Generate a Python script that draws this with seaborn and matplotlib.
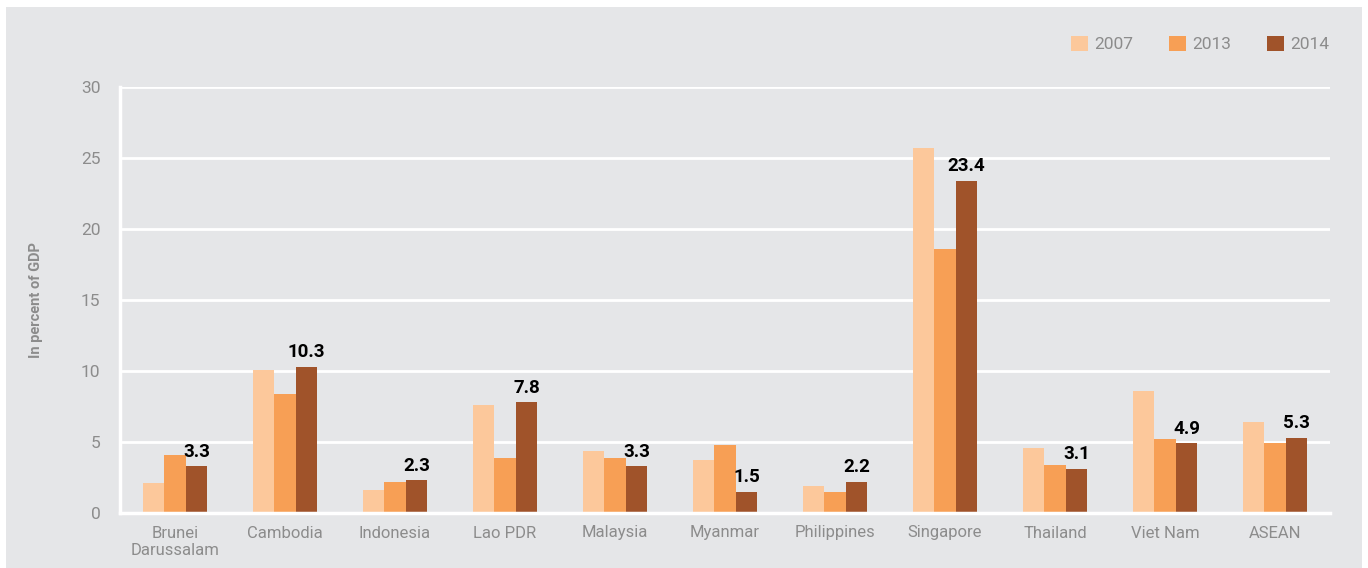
"""ASEAN chart: in percent of GDP, 2007 / 2013 / 2014."""

import matplotlib
matplotlib.use("Agg")
import matplotlib.pyplot as plt
import pandas as pd
import seaborn as sns
from matplotlib.patches import Rectangle

COUNTRIES = ["Brunei\nDarussalam", "Cambodia", "Indonesia", "Lao PDR", "Malaysia", "Myanmar",
             "Philippines", "Singapore", "Thailand", "Viet Nam", "ASEAN"]
YEARS = ["2007", "2013", "2014"]
V2007 = [2.1, 10.1, 1.6, 7.6, 4.4, 3.7, 1.9, 25.7, 4.6, 8.6, 6.4]
V2013 = [4.1, 8.4, 2.2, 3.9, 3.9, 4.8, 1.5, 18.6, 3.4, 5.2, 4.9]
V2014 = [3.3, 10.3, 2.3, 7.8, 3.3, 1.5, 2.2, 23.4, 3.1, 4.9, 5.3]
YTICKS = [0, 5, 10, 15, 20, 25, 30]

BG, GREY = "#e5e6e8", "#8c8c8c"
PALETTE = {"2007": "#fcc89b", "2013": "#f79f55", "2014": "#a0532a"}

sns.set_theme(style="white")
plt.rcParams["font.family"] = ["Roboto", "DejaVu Sans"]

df = pd.DataFrame({"country": COUNTRIES * 3, "year": [y for y in YEARS for _ in COUNTRIES],
                   "value": V2007 + V2013 + V2014})

fig = plt.figure(figsize=(13.68, 5.68), dpi=100, facecolor="white")
fig.patches.append(Rectangle((6 / 1368, 0), 1 - 12 / 1368, 1 - 7 / 568, transform=fig.transFigure,
                             facecolor=BG, edgecolor="none", zorder=-10))
ax = fig.add_axes([120 / 1368, 1 - 513 / 568, 1210 / 1368, 426 / 568])
ax.set_facecolor(BG)

sns.barplot(data=df, x="country", y="value", hue="year", palette=PALETTE, width=0.59, gap=0,
            saturation=1, ax=ax, errorbar=None, linewidth=0, zorder=3)

ax.set_ylim(0, 30); ax.set_xlim(-0.5, 10.5)
ax.set_yticks(YTICKS)
ax.yaxis.grid(True, color="white", lw=2, zorder=0); ax.set_axisbelow(True)
for s in ["top", "right"]: ax.spines[s].set_visible(False)
for s in ["left", "bottom"]: ax.spines[s].set_color("white"); ax.spines[s].set_linewidth(2.5)
ax.spines["bottom"].set_zorder(5)
ax.tick_params(length=0, labelsize=12.5, colors=GREY, pad=9)
ax.tick_params(axis="x", labelsize=12)
ax.tick_params(axis="y", pad=14)
ax.set_xlabel("")
ax.set_ylabel("In percent of GDP", fontsize=10.5, fontweight="bold", color=GREY)
ax.yaxis.set_label_coords(-0.064, 0.5)

ax.bar_label(ax.containers[2], labels=[f"{v:.1f}" for v in V2014], padding=4,
             fontsize=13.5, fontweight="bold", color="black")

ax.legend(title=None, frameon=False, ncol=3, loc="lower right", bbox_to_anchor=(1.012, 1.045),
          fontsize=12.5, handlelength=0.95, handleheight=0.95, handletextpad=0.35, columnspacing=2.1,
          labelcolor=GREY)

fig.savefig("out.png", dpi=100, facecolor="white")
